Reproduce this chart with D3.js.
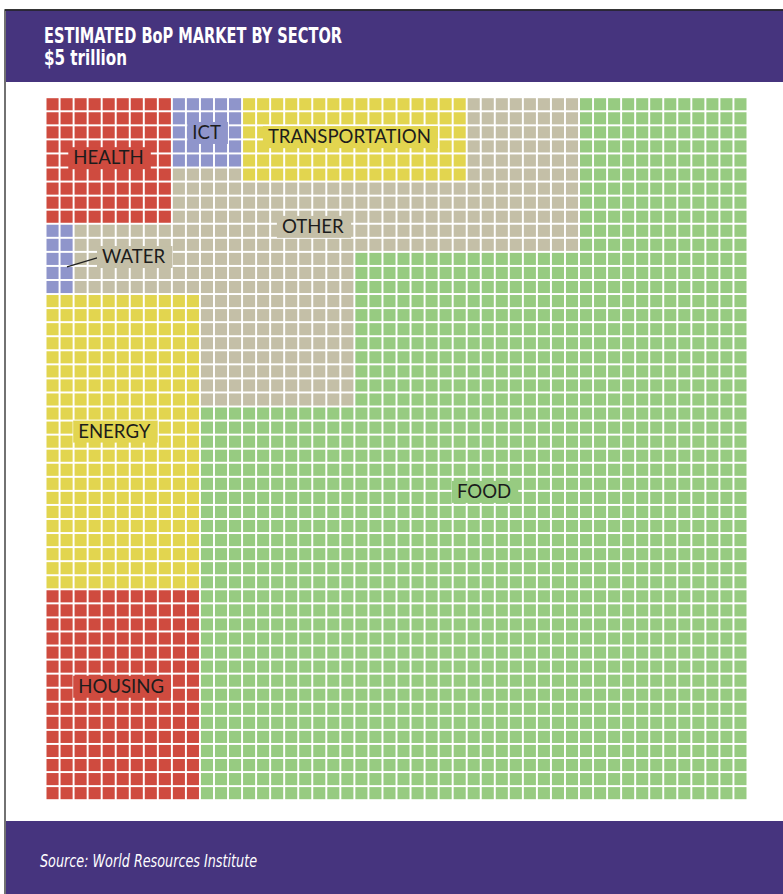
<!DOCTYPE html>
<html>
<head>
<meta charset="utf-8">
<script src="https://cdn.jsdelivr.net/npm/d3@7"></script>
<style>
  body { margin: 0; background: #fff; }
  svg { display: block; }
</style>
</head>
<body>
<script>
// one cell = $2 billion, 50 x 50 grid = $5 trillion
const sectors    = ["Food", "Other", "Energy", "Housing", "Transportation", "Health", "ICT", "Water"];
const labels     = ["FOOD", "OTHER", "ENERGY", "HOUSING", "TRANSPORTATION", "HEALTH", "ICT", "WATER"];
const cellCounts = [1532, 360, 231, 165, 96, 81, 25, 10];

const w = 783;
const h = 894;
const n = 50;

const colors = {
  Food: "#97cb81",
  Other: "#c4bfa7",
  Energy: "#e2d54f",
  Housing: "#cf4b3f",
  Transportation: "#e2d54f",
  Health: "#cf4b3f",
  ICT: "#8f95cb",
  Water: "#8f95cb"
};

// how the sectors are packed into the grid (columns / rows)
const blocks = [
  ["Health", 0, 0, 9, 9],
  ["ICT", 9, 0, 5, 5],
  ["Transportation", 14, 0, 16, 6],
  ["Other", 30, 0, 8, 6],
  ["Other", 9, 5, 5, 1],
  ["Other", 9, 6, 29, 3],
  ["Other", 2, 9, 36, 2],
  ["Other", 2, 11, 20, 3],
  ["Other", 11, 14, 11, 8],
  ["Water", 0, 9, 2, 5],
  ["Energy", 0, 14, 11, 21],
  ["Housing", 0, 35, 11, 15],
  ["Food", 38, 0, 12, 11],
  ["Food", 22, 11, 28, 11],
  ["Food", 11, 22, 39, 28]
];

// label anchors in grid units, and the area each label sits on
const labelPos = {
  Food: [29.3, 28.5],
  Other: [16.8, 9.6],
  Energy: [2.25, 24.2],
  Housing: [2.25, 42.4],
  Transportation: [15.8, 3.2],
  Health: [1.9, 4.7],
  ICT: [10.4, 2.9],
  Water: [3.95, 11.75]
};
const labelOn = { Water: "Other" };

const cells = [];
blocks.forEach(([s, c0, r0, nc, nr]) => {
  for (let r = r0; r < r0 + nr; r++)
    for (let c = c0; c < c0 + nc; c++) cells.push({ sector: s, col: c, row: r });
});
sectors.forEach((s, i) => {
  const got = cells.filter(d => d.sector === s).length;
  if (got !== cellCounts[i]) console.warn(s, got, cellCounts[i]);
});

const svg = d3.select("body").append("svg")
  .attr("width", w)
  .attr("height", h);

const purple = "#46347e";
const headFont = "'Liberation Sans Narrow', 'DejaVu Sans Condensed', sans-serif";

// frame + header + footer
svg.append("rect").attr("x", 5).attr("y", 10).attr("width", w).attr("height", h)
  .attr("fill", "#fff").attr("stroke", "#444").attr("stroke-width", 1.5);
svg.append("rect").attr("x", 6).attr("y", 10).attr("width", w).attr("height", 72)
  .attr("fill", purple);
svg.append("line").attr("x1", 5).attr("x2", w).attr("y1", 10).attr("y2", 10)
  .attr("stroke", "#222").attr("stroke-width", 1.5);
svg.append("rect").attr("x", 6).attr("y", 821).attr("width", w).attr("height", 73)
  .attr("fill", purple);

svg.append("text")
  .attr("x", 44).attr("y", 43)
  .attr("fill", "#fff")
  .style("font-family", headFont)
  .style("font-weight", "bold")
  .style("font-size", "20.5px")
  .attr("textLength", 298)
  .attr("lengthAdjust", "spacingAndGlyphs")
  .text("ESTIMATED BoP MARKET BY SECTOR");

svg.append("text")
  .attr("x", 44).attr("y", 65)
  .attr("fill", "#fff")
  .style("font-family", headFont)
  .style("font-weight", "bold")
  .style("font-size", "20.5px")
  .attr("textLength", 83)
  .attr("lengthAdjust", "spacingAndGlyphs")
  .text("$5 trillion");

svg.append("text")
  .attr("x", 40).attr("y", 867)
  .attr("fill", "#fff")
  .style("font-family", headFont)
  .style("font-style", "italic")
  .style("font-size", "18px")
  .attr("textLength", 217)
  .attr("lengthAdjust", "spacingAndGlyphs")
  .text("Source: World Resources Institute");

// scales
const x = d3.scaleBand().domain(d3.range(n)).range([46.5, 746.5]).paddingInner(0.14);
const y = d3.scaleBand().domain(d3.range(n)).range([98.2, 799.2]).paddingInner(0.14);
const gx = d3.scaleLinear().domain([0, n]).range([46.7, 746.7]);
const gy = d3.scaleLinear().domain([0, n]).range([98.3, 799.3]);

svg.append("g").selectAll("rect")
  .data(cells)
  .join("rect")
  .attr("x", d => x(d.col))
  .attr("y", d => y(d.row))
  .attr("width", x.bandwidth())
  .attr("height", y.bandwidth())
  .attr("fill", d => colors[d.sector]);

// water leader line
svg.append("line")
  .attr("x1", gx(1.45)).attr("y1", gy(12.03))
  .attr("x2", gx(3.6)).attr("y2", gy(11.39))
  .attr("stroke", "#222").attr("stroke-width", 1.3);

// labels with a background patch in the colour underneath
const lab = svg.append("g").selectAll("g")
  .data(sectors.map((s, i) => ({ sector: s, text: labels[i] })))
  .join("g");

lab.append("rect").attr("class", "bg");
lab.append("text")
  .attr("x", d => gx(labelPos[d.sector][0]))
  .attr("y", d => gy(labelPos[d.sector][1]))
  .attr("fill", "#1c1c1c")
  .style("font-family", "Lato, 'Open Sans', sans-serif")
  .style("font-size", "18.6px")
  .text(d => d.text);

lab.each(function() {
  const g = d3.select(this);
  const b = g.select("text").node().getBBox();
  g.select("rect.bg")
    .attr("x", b.x - 5)
    .attr("y", b.y + 1)
    .attr("width", b.width + 12)
    .attr("height", b.height)
    .attr("fill", d => colors[labelOn[d.sector] || d.sector]);
});
</script>
</body>
</html>
